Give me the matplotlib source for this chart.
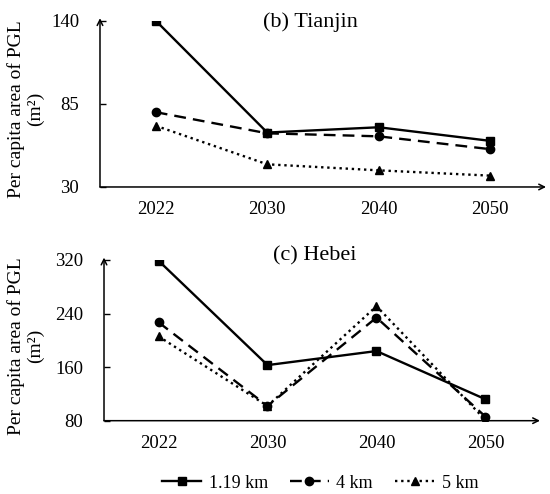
import numpy as np
import matplotlib
matplotlib.use("Agg")
import matplotlib.pyplot as plt

plt.rcParams['font.family'] = ['Liberation Serif', 'DejaVu Serif']

years = ['2022', '2030', '2040', '2050']
series_labels = ['1.19 km', '4 km', '5 km']

# (b) Tianjin
tj_119 = [140, 66, 69.5, 60.5]
tj_4 = [79.5, 65.5, 63.5, 55]
tj_5 = [70.5, 45, 41, 37.5]

# (c) Hebei
hb_119 = [319, 163, 184, 112]
hb_4 = [227, 102, 234, 86]
hb_5 = [206, 102, 251, 81]

styles = [
    dict(color='black', lw=1.7, ls='-', marker='s', ms=6),
    dict(color='black', lw=1.7, ls=(0, (5, 3)), marker='o', ms=6),
    dict(color='black', lw=1.7, ls=(0, (1, 1.6)), marker='^', ms=6),
]

fig = plt.figure(figsize=(5.5, 4.94), dpi=100)
ax1 = fig.add_axes([0.1818, 0.6215, 0.811, 0.3366])
ax2 = fig.add_axes([0.1891, 0.1484, 0.7927, 0.3253])


def draw(ax, data, ylim, yticks, title, title_x, title_y):
    x = np.arange(len(years))
    lines = []
    for vals, st in zip(data, styles):
        ln, = ax.plot(x, vals, **st)
        lines.append(ln)
    ax.set_xlim(-0.5, 3.5)
    ax.set_ylim(*ylim)
    ax.set_yticks(yticks)
    ax.set_xticks(x)
    ax.set_xticklabels(years)
    for s in ax.spines.values():
        s.set_visible(False)
    ax.tick_params(axis='y', direction='in', length=4, width=1, pad=15, labelsize=13.5)
    ax.tick_params(axis='x', length=0, pad=10, labelsize=13.5)
    ax.annotate('', xy=(1, 0), xytext=(0, 0), xycoords='axes fraction',
                arrowprops=dict(arrowstyle='->', lw=1.1, color='black',
                                shrinkA=0, shrinkB=0), annotation_clip=False)
    ax.annotate('', xy=(0, 1.015), xytext=(0, 0), xycoords='axes fraction',
                arrowprops=dict(arrowstyle='->', lw=1.1, color='black',
                                shrinkA=0, shrinkB=0), annotation_clip=False)
    fig.text(title_x, title_y, title, ha='center', va='center', fontsize=16)
    return lines


draw(ax1, [tj_119, tj_4, tj_5], (30, 140), [30, 85, 140], '(b) Tianjin', 310 / 550, 1 - 22 / 494)
lines = draw(ax2, [hb_119, hb_4, hb_5], (80, 320), [80, 160, 240, 320], '(c) Hebei', 315 / 550, 1 - 256 / 494)

ylab = 'Per capita area of PGL\n(m²)'
fig.text(26 / 550, 1 - 109 / 494, ylab, rotation=90, ha='center', va='center',
         fontsize=14, multialignment='center', linespacing=1.15)
fig.text(26 / 550, 1 - 346 / 494, ylab, rotation=90, ha='center', va='center',
         fontsize=14, multialignment='center', linespacing=1.15)

fig.legend(lines, series_labels, loc='center', bbox_to_anchor=(320 / 550, 1 - 483 / 494),
           ncol=3, frameon=False, fontsize=13, handlelength=2.2, columnspacing=1.2,
           handletextpad=0.4)

fig.savefig('out.png', dpi=100)
